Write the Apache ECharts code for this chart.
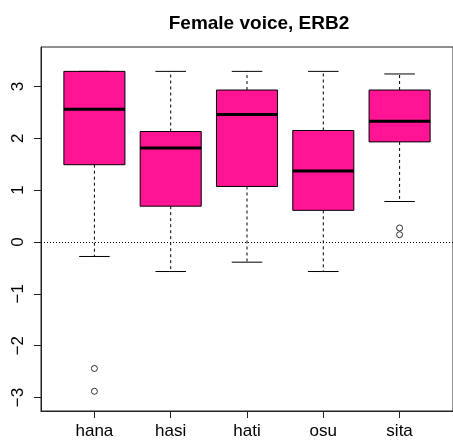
<!DOCTYPE html>
<html>
<head>
<meta charset="utf-8">
<script src="https://cdn.jsdelivr.net/npm/echarts@6/dist/echarts.min.js"></script>
<style>html,body{margin:0;padding:0;background:#fff}#c{width:453px;height:442px}</style>
</head>
<body>
<div id="c"></div>
<script>
var categories = ['hana', 'hasi', 'hati', 'osu', 'sita'];
var lowerWhisker = [-0.28, -0.57, -0.39, -0.57, 0.78];
var q1 = [1.49, 0.69, 1.07, 0.61, 1.93];
var median = [2.56, 1.81, 2.46, 1.37, 2.33];
var q3 = [3.29, 2.13, 2.93, 2.15, 2.93];
var upperWhisker = [3.29, 3.29, 3.29, 3.29, 3.24];
var outlierCat = [0, 0, 4, 4];
var outlierVal = [-2.44, -2.88, 0.27, 0.14];
var yTicks = [-3, -2, -1, 0, 1, 2, 3];

var FONT = "'Liberation Sans', Helvetica, Arial, sans-serif";
var boxData = categories.map(function (c, i) {
  return [i + 1, lowerWhisker[i], q1[i], median[i], q3[i], upperWhisker[i]];
});
var outData = outlierCat.map(function (c, i) { return [c + 1, outlierVal[i]]; });
var xTicks = categories.map(function (c, i) { return i + 1; });

var chart = echarts.init(document.getElementById('c'), null, {renderer: 'canvas'});
chart.setOption({
  backgroundColor: '#ffffff',
  animation: false,
  title: {
    text: 'Female voice, ERB2',
    left: 254, top: 9, textAlign: 'center',
    textStyle: {fontFamily: FONT, fontSize: 19, fontWeight: 'bold', color: '#000'}
  },
  grid: {left: 41, top: 47, width: 416, height: 364, show: true, borderColor: '#222', borderWidth: 1, backgroundColor: 'transparent'},
  xAxis: {
    type: 'value', min: 0.3, max: 5.7,
    splitLine: {show: false},
    axisLine: {show: true, onZero: false, lineStyle: {color: '#222', width: 1}},
    axisTick: {show: true, length: 7, customValues: xTicks, lineStyle: {color: '#222'}},
    axisLabel: {
      customValues: xTicks, margin: 12,
      fontFamily: FONT, fontSize: 17, color: '#000',
      formatter: function (v) { return categories[Math.round(v) - 1] || ''; }
    }
  },
  yAxis: {
    type: 'value', min: -3.26, max: 3.76,
    splitLine: {show: false},
    axisLine: {show: true, onZero: false, lineStyle: {color: '#222', width: 1}},
    axisTick: {show: true, length: 7, customValues: yTicks, lineStyle: {color: '#222'}},
    axisLabel: {
      customValues: yTicks, rotate: 90, margin: 14,
      fontFamily: FONT, fontSize: 17, color: '#000',
      formatter: function (v) { return String(v).replace('-', '\u2212'); }
    }
  },
  series: [
    {
      type: 'custom',
      data: boxData,
      renderItem: function (params, api) {
        var x = api.value(0);
        var pLo = api.coord([x, api.value(1)]);
        var pQ1 = api.coord([x, api.value(2)]);
        var pMed = api.coord([x, api.value(3)]);
        var pQ3 = api.coord([x, api.value(4)]);
        var pHi = api.coord([x, api.value(5)]);
        var bw = api.size([0.8, 0])[0];
        var cw = api.size([0.4, 0])[0];
        var cx = pMed[0];
        var blk = {stroke: '#000', lineWidth: 1, fill: null};
        return {
          type: 'group',
          children: [
            {type: 'line', shape: {x1: cx, y1: pQ3[1], x2: cx, y2: pHi[1]}, style: {stroke: '#000', lineWidth: 1, lineDash: [3, 3]}},
            {type: 'line', shape: {x1: cx, y1: pQ1[1], x2: cx, y2: pLo[1]}, style: {stroke: '#000', lineWidth: 1, lineDash: [3, 3]}},
            {type: 'line', shape: {x1: cx - cw / 2, y1: pHi[1], x2: cx + cw / 2, y2: pHi[1]}, style: blk},
            {type: 'line', shape: {x1: cx - cw / 2, y1: pLo[1], x2: cx + cw / 2, y2: pLo[1]}, style: blk},
            {type: 'rect', shape: {x: cx - bw / 2, y: pQ3[1], width: bw, height: pQ1[1] - pQ3[1]}, style: {fill: '#FF1493', stroke: '#000', lineWidth: 1}},
            {type: 'line', shape: {x1: cx - bw / 2, y1: pMed[1], x2: cx + bw / 2, y2: pMed[1]}, style: {stroke: '#000', lineWidth: 3}}
          ]
        };
      },
      markLine: {
        silent: true, symbol: ['none', 'none'],
        label: {show: false},
        lineStyle: {color: '#000', width: 1, type: [1, 2]},
        data: [{yAxis: 0}]
      },
      z: 2
    },
    {
      type: 'scatter',
      data: outData,
      symbol: 'circle', symbolSize: 6,
      itemStyle: {color: '#fff', borderColor: '#000', borderWidth: 1},
      z: 3
    }
  ]
});
</script>
</body>
</html>
